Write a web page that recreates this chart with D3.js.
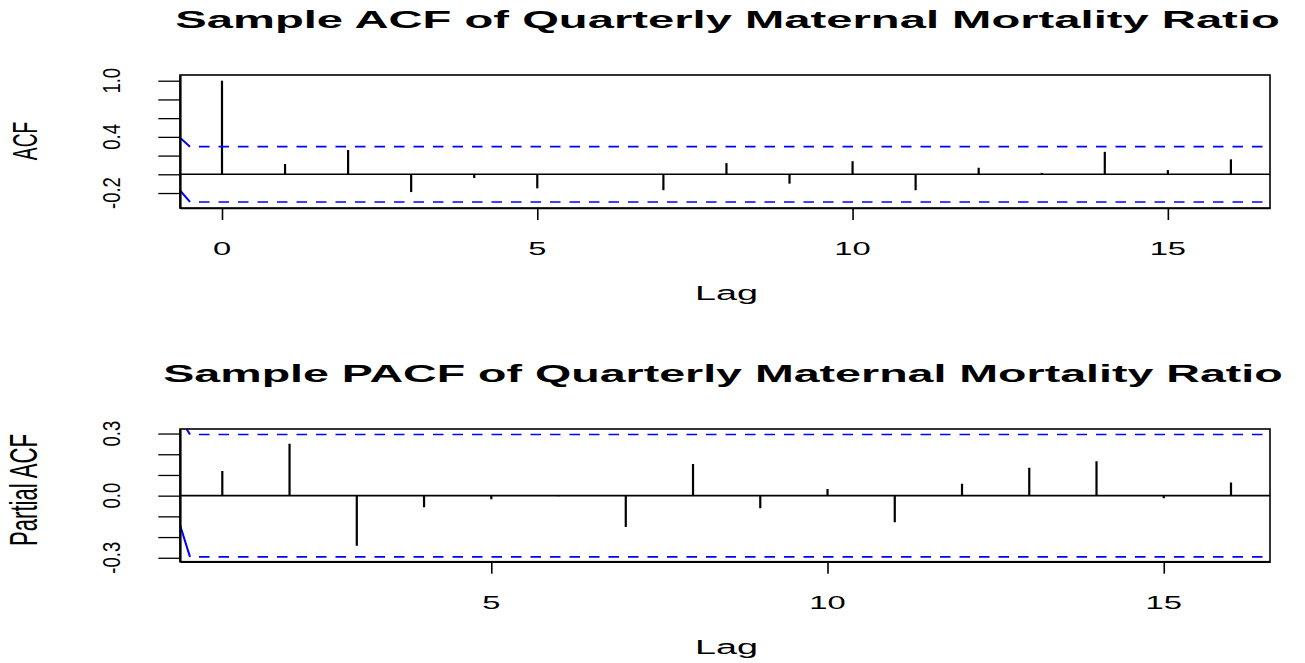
<!DOCTYPE html>
<html>
<head>
<meta charset="utf-8">
<script src="https://d3js.org/d3.v7.min.js"></script>
<style>
  body { margin: 0; background: #fff; }
  svg { font-family: "Liberation Sans", Arial, sans-serif; }
</style>
</head>
<body>
<div id="chart"></div>
<script>
// ---- data ----
var acfLags = [0, 1, 2, 3, 4, 5, 6, 7, 8, 9, 10, 11, 12, 13, 14, 15, 16];
var acfValues = [1.0, 0.11, 0.26, -0.19, -0.04, -0.15, 0.003, -0.17, 0.12, -0.10, 0.14, -0.17, 0.07, 0.015, 0.24, 0.045, 0.16];
var pacfLags = [1, 2, 3, 4, 5, 6, 7, 8, 9, 10, 11, 12, 13, 14, 15, 16];
var pacfValues = [0.119, 0.251, -0.242, -0.056, -0.017, -0.003, -0.151, 0.153, -0.061, 0.032, -0.129, 0.057, 0.135, 0.166, -0.013, 0.063];
var acfTicksX = [0, 5, 10, 15];
var pacfTicksX = [5, 10, 15];
var acfTicksY = [-0.2, 0, 0.2, 0.4, 0.6, 0.8, 1.0];
var acfLabelsY = [-0.2, 0.4, 1.0];
var pacfTicksY = [-0.3, -0.2, -0.1, 0, 0.1, 0.2, 0.3];
var pacfLabelsY = [-0.3, 0, 0.3];
var ciBound = 0.2955;

var width = 1305, height = 663;
var left = 180, right = 1270;

var svg = d3.select("#chart").append("svg")
  .attr("width", width)
  .attr("height", height);

/* text stretched horizontally to a given width */
function wideText(g, str, x, y, size, weight, targetW) {
  var t = g.append("text")
    .attr("font-size", size)
    .attr("font-weight", weight)
    .attr("text-anchor", "middle")
    .attr("fill", "#000")
    .text(str);
  var w = t.node().getComputedTextLength();
  t.attr("transform", `translate(${x},${y}) scale(${targetW / w},1)`);
  return t;
}

/* rotated text: length along the axis and glyph height across it */
function tallText(g, str, x, y, targetLen, capW) {
  var t = g.append("text")
    .attr("font-size", 100)
    .attr("text-anchor", "middle")
    .attr("fill", "#000")
    .text(str);
  var l = t.node().getComputedTextLength();
  var size = 100 * targetLen / l;
  var sx = capW / (0.716 * size);
  t.attr("font-size", size)
    .attr("transform", `translate(${x},${y}) scale(${sx},1) rotate(-90)`);
  return t;
}

var panels = [
  { id: "acf", title: "Sample ACF of Quarterly Maternal Mortality Ratio", titleX: 727.5, titleW: 1105,
    ylab: "ACF", ylabY: 141, ylabLen: 38.3, ylabCap: 25,
    lags: acfLags, values: acfValues, top: 75, bottom: 208,
    xDomain: [-0.666, 16.62], yDomain: [-0.36, 1.061],
    ticksX: acfTicksX, ticksY: acfTicksY, labelsY: acfLabelsY,
    slopeUp: 9, slopeLow: 11.6, off: 0 },
  { id: "pacf", title: "Sample PACF of Quarterly Maternal Mortality Ratio", titleX: 723, titleW: 1120,
    ylab: "Partial ACF", ylabY: 490, ylabLen: 112, ylabCap: 28,
    lags: pacfLags, values: pacfValues, top: 429, bottom: 561.7,
    xDomain: [0.371, 16.58], yDomain: [-0.319, 0.322],
    ticksX: pacfTicksX, ticksY: pacfTicksY, labelsY: pacfLabelsY,
    slopeUp: 16, slopeLow: 31.7, off: 354 }
];

panels.forEach(function(p) {
  var g = svg.append("g").attr("class", p.id);

  var x = d3.scaleLinear().domain(p.xDomain).range([left, right]);
  var y = d3.scaleLinear().domain(p.yDomain).range([p.bottom, p.top]);

  // clip to the plot box
  g.append("clipPath").attr("id", "clip-" + p.id)
    .append("rect")
    .attr("x", left).attr("y", p.top)
    .attr("width", right - left).attr("height", p.bottom - p.top);

  var plot = g.append("g").attr("clip-path", `url(#clip-${p.id})`);

  // zero line
  plot.append("line")
    .attr("x1", left).attr("x2", right)
    .attr("y1", y(0)).attr("y2", y(0))
    .attr("stroke", "#000").attr("stroke-width", 1.6);

  // bars
  plot.selectAll(".bar")
    .data(p.lags.map((l, i) => ({ lag: l, v: p.values[i] })))
    .enter().append("line")
    .attr("class", "bar")
    .attr("x1", d => x(d.lag)).attr("x2", d => x(d.lag))
    .attr("y1", y(0)).attr("y2", d => y(d.v))
    .attr("stroke", "#000").attr("stroke-width", 2.2);

  // confidence bounds
  [ciBound, -ciBound].forEach(function(b, k) {
    plot.append("line")
      .attr("x1", left + 10).attr("x2", right)
      .attr("y1", y(b)).attr("y2", y(b))
      .attr("stroke", "#0000ff").attr("stroke-width", 1.6)
      .attr("stroke-dasharray", "10.5,9")
      .attr("stroke-dashoffset", 10.5);
    var dy = k === 0 ? p.slopeUp : p.slopeLow;
    plot.append("line")
      .attr("x1", left).attr("y1", y(b) - dy)
      .attr("x2", left + 10).attr("y2", y(b))
      .attr("stroke", "#0000ff").attr("stroke-width", 2);
  });

  // box
  g.append("rect")
    .attr("x", left).attr("y", p.top)
    .attr("width", right - left).attr("height", p.bottom - p.top)
    .attr("fill", "none").attr("stroke", "#000").attr("stroke-width", 1.6);

  // axes
  var yAxis = d3.axisLeft(y).tickValues(p.ticksY).tickSize(21.7).tickSizeOuter(0).tickFormat("");
  var ya = g.append("g").attr("transform", `translate(${left},0)`).call(yAxis);
  ya.select(".domain").attr("stroke-width", 2.2);
  ya.selectAll(".tick line").attr("stroke-width", 1.3);

  var xAxis = d3.axisBottom(x).tickValues(p.ticksX).tickSize(12).tickSizeOuter(0).tickFormat("");
  var xa = g.append("g").attr("transform", `translate(0,${p.bottom})`).call(xAxis);
  xa.select(".domain").attr("stroke-width", 1.6);
  xa.selectAll(".tick line").attr("stroke-width", 1.6);

  // tick labels
  p.ticksX.forEach(function(t) {
    var s = String(t);
    wideText(g, s, x(t), 255 + p.off, 18.5, "normal", s.length * 18.2);
  });
  p.labelsY.forEach(function(t) {
    g.append("text")
      .attr("font-size", 18.5)
      .attr("text-anchor", "middle")
      .attr("fill", "#000")
      .attr("transform", `translate(120,${y(t)}) scale(1.3,1) rotate(-90)`)
      .text(t.toFixed(1));
  });

  // titles and axis labels
  wideText(g, p.title, p.titleX, 28.3 + p.off, 23.5, "bold", p.titleW);
  wideText(g, "Lag", 726.5, 300 + p.off, 19.5, "normal", 63);
  tallText(g, p.ylab, 36.7, p.ylabY, p.ylabLen, p.ylabCap);
});
</script>
</body>
</html>
